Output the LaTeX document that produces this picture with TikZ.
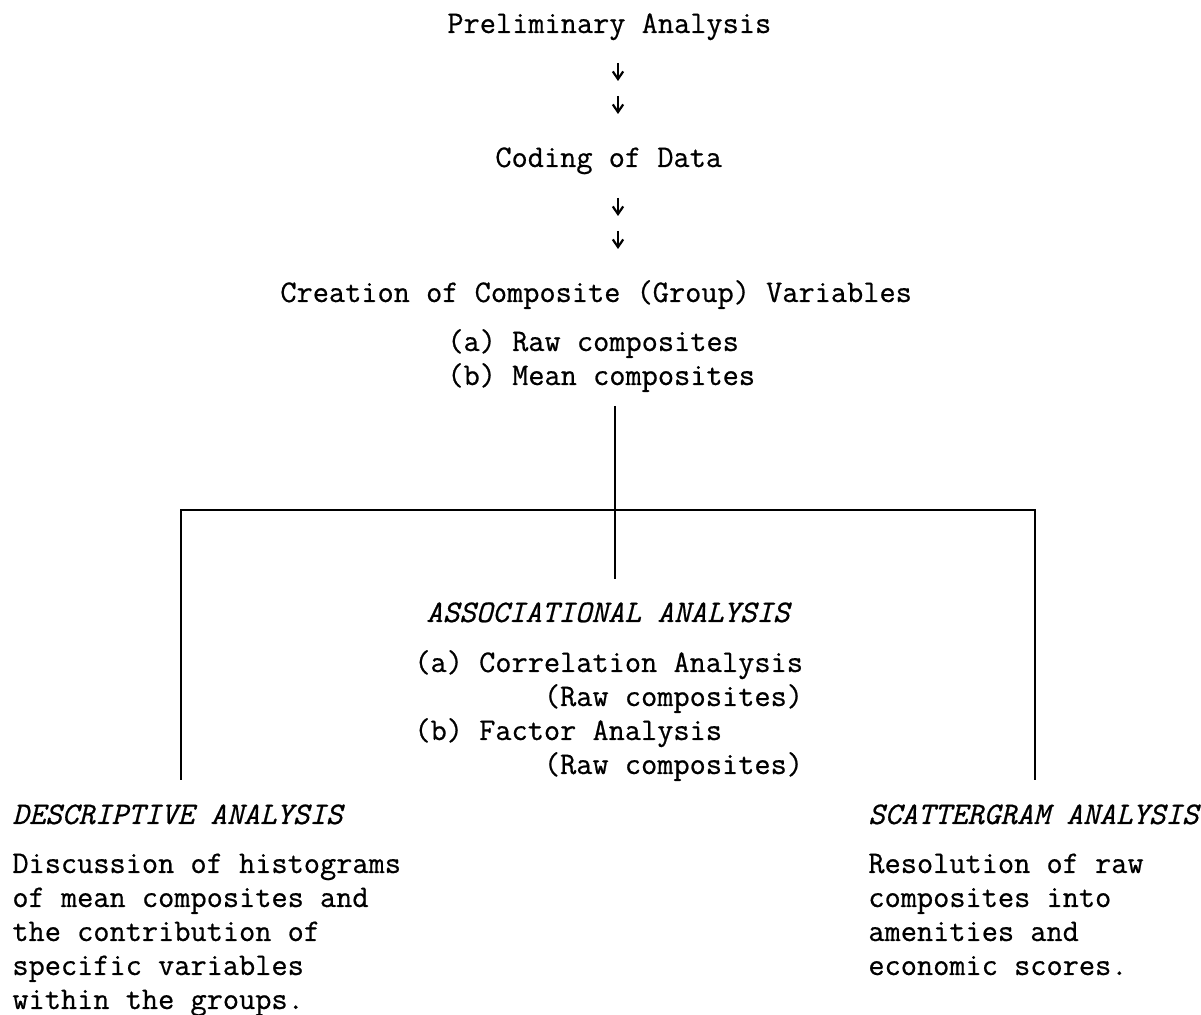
\documentclass[tikz,border=0pt]{standalone}
\usepackage{fontspec}
\setmonofont[FakeBold=0.6]{Latin Modern Mono}
\usetikzlibrary{arrows.meta}
% a block of left-aligned lines whose baseline is that of its first line
\newcommand{\textlines}[1]{\begin{tabular}[t]{@{}l@{}}#1\end{tabular}}
\begin{document}
\begin{tikzpicture}[x=0.5pt,y=-0.5pt,
  txt/.style={inner sep=0pt, anchor=base west,
    font=\ttfamily\fontsize{15.72pt}{17pt}\selectfont},
  head/.style={txt, font=\ttfamily\itshape\fontsize{15.72pt}{17pt}\selectfont},
  rule/.style={line width=1pt},
  tick/.style={line width=1.1pt, -{Straight Barb[length=3.8pt,width=5.2pt,line width=1.1pt]}}]
\useasboundingbox (0,0) rectangle (1201,1015);

% stages of the analysis
\node[txt] (prelim) at (447,33) {Preliminary Analysis};
\node[txt] (coding) at (495,167) {Coding of Data};
\node[txt] (create) at (280,302) {Creation of Composite (Group) Variables};
\node[txt] (comps) at (447,351) {\textlines{(a) Raw composites\\(b) Mean composites}};

% the three branches
\node[head] (assoc) at (426,622) {ASSOCIATIONAL ANALYSIS};
\node[txt] (methods) at (414,672) {\textlines{(a) Correlation Analysis\\\phantom{(a) Corr}(Raw composites)\\(b) Factor Analysis\\\phantom{(a) Corr}(Raw composites)}};
\node[head] (descr) at (12,824) {DESCRIPTIVE ANALYSIS};
\node[txt] (descrtext) at (12,873) {\textlines{Discussion of histograms\\of mean composites and\\the contribution of\\specific variables\\within the groups.}};
\node[head] (scat) at (868,824) {SCATTERGRAM ANALYSIS};
\node[txt] (scattext) at (868,873) {\textlines{Resolution of raw\\composites into\\amenities and\\economic scores.}};

% double arrows between the first stages
\coordinate (a1s) at (618,63);  \coordinate (a1e) at (618,81);
\coordinate (a2s) at (618,96);  \coordinate (a2e) at (618,114);
\coordinate (a3s) at (618,198); \coordinate (a3e) at (618,216);
\coordinate (a4s) at (618,231); \coordinate (a4e) at (618,249);
\draw[tick] (a1s) -- (a1e);
\draw[tick] (a2s) -- (a2e);
\draw[tick] (a3s) -- (a3e);
\draw[tick] (a4s) -- (a4e);

% branching tree
\coordinate (stem) at (615,406);
\coordinate (j) at (615,510);
\coordinate (jl) at (181,510);
\coordinate (jr) at (1035,510);
\coordinate (assoctop) at (615,579);
\coordinate (descrtop) at (181,780);
\coordinate (scattop) at (1035,780);
\draw[rule] (stem) -- (j) -- (assoctop);
\draw[rule] (descrtop) -- (jl) -- (jr) -- (scattop);
\end{tikzpicture}
\end{document}
